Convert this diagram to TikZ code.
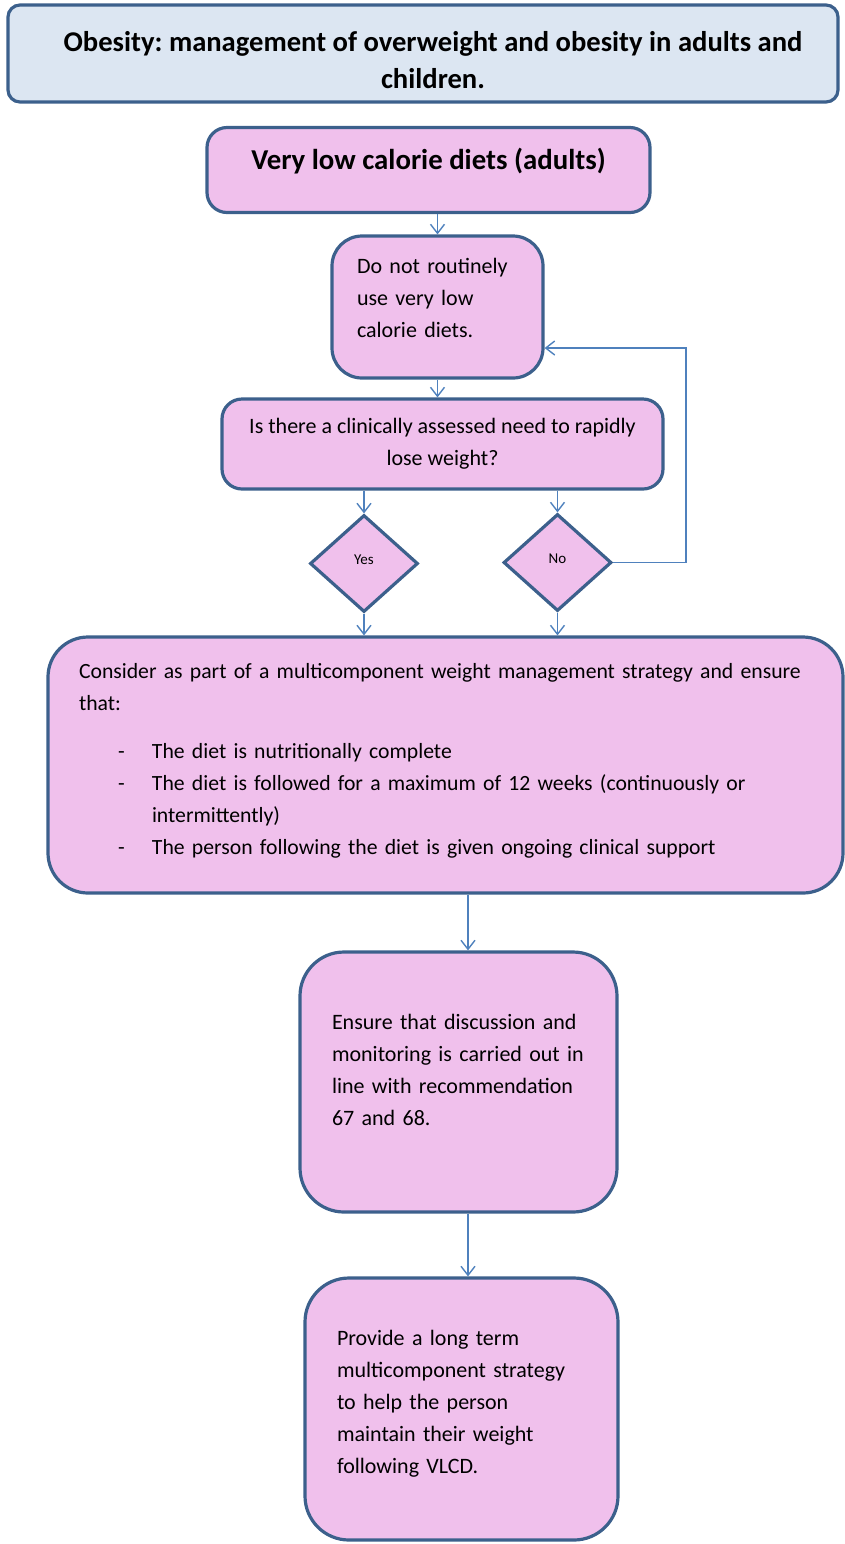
\documentclass[tikz,border=0pt]{standalone}
\usepackage{fontspec}
\setmainfont{Carlito}
\usepackage{tikz}
\usetikzlibrary{positioning}
\usetikzlibrary{shapes.geometric, arrows.meta}

\definecolor{boxpink}{RGB}{240,192,236}
\definecolor{boxline}{RGB}{60,96,140}
\definecolor{headfill}{RGB}{220,230,242}
\definecolor{flowblue}{RGB}{79,129,189}

\frenchspacing
\newcommand{\padbelow}[1]{\rule[-#1]{0pt}{#1}}
\newcommand{\padabove}[1]{\rule{0pt}{#1}}
\newcommand{\dashitem}{\makebox[36.5pt][l]{\hspace{19.5pt}-}}

\tikzset{
    box/.style={draw=boxline, line width=1.6pt, fill=boxpink, inner ysep=0pt,
        font=\fontsize{11}{16}\selectfont},
    choice/.style={box, diamond, inner sep=0pt, minimum width=54pt, minimum height=48.5pt,
        font=\fontsize{7.5}{8}\selectfont},
    flow/.style={draw=flowblue, line width=0.7pt, -{Straight Barb[length=4.5pt,width=7pt]}},
}

\begin{document}
\begin{tikzpicture}[x=0.5pt, y=-0.5pt]
    \useasboundingbox (0,0) rectangle (845,1544);

    % Nodes
    \node[box, fill=headfill, rounded corners=6pt, minimum width=415pt, minimum height=48.5pt,
        align=center, font=\bfseries\fontsize{14.3}{18.5}\selectfont] (title) at (423,53.5)
        {\hspace*{10pt}\padabove{17pt}Obesity: management of overweight and obesity in adults and\\
         \hspace*{10pt}children.};
    \node[box, rounded corners=10pt, minimum width=221.5pt, minimum height=42.5pt,
        font=\bfseries\fontsize{14.4}{20}\selectfont] (vlcd) at (428.5,170)
        {Very low calorie diets (adults)\padbelow{11pt}};
    \node[box, rounded corners=15pt, minimum width=105.5pt, minimum height=71pt,
        inner xsep=12.5pt, text width=80.5pt, align=left] (avoid) at (437.5,307)
        {Do not routinely\\use very low\\calorie diets.\padbelow{9pt}};
    \node[box, rounded corners=10pt, minimum width=220.5pt, minimum height=45pt,
        align=center] (question) at (442.5,444)
        {Is there a clinically assessed need to rapidly\\lose weight?};
    \node[choice] (yes) at (364,563.5) {Yes\padbelow{4pt}};
    \node[choice] (no) at (557.5,562.5) {No\padbelow{4pt}};
    \node[box, rounded corners=20pt, minimum width=397.5pt, minimum height=128pt,
        inner xsep=15.5pt, text width=366.5pt, align=left,
        font=\fontsize{10.85}{16}\selectfont] (consider) at (445.5,765)
        {Consider as part of a multicomponent weight management strategy and ensure\\
         that:\\[8pt]
         \dashitem The diet is nutritionally complete\\
         \dashitem The diet is followed for a maximum of 12 weeks (continuously or\\
         \hspace*{36.5pt}intermittently)\\
         \dashitem The person following the diet is given ongoing clinical support\padbelow{6pt}};
    \node[box, rounded corners=22pt, minimum width=158.5pt, minimum height=130pt,
        inner xsep=16pt, text width=126.5pt, align=left] (ensure) at (458.5,1082)
        {Ensure that discussion and\\monitoring is carried out in\\line with recommendation\\67 and 68.\padbelow{12pt}};
    \node[box, rounded corners=22pt, minimum width=156.5pt, minimum height=131pt,
        inner xsep=16pt, text width=124.5pt, align=left] (provide) at (461.5,1409)
        {Provide a long term\\multicomponent strategy\\to help the person\\maintain their weight\\following VLCD.\padbelow{7pt}};

    \coordinate (spine) at (468,0);
    \coordinate (loop) at (686,348);

    % Edges
    \draw[flow] (avoid.north |- vlcd.south) -- (avoid.north);
    \draw[flow] (avoid.south) -- (avoid.south |- question.north);
    \draw[flow] (yes.north |- question.south) -- (yes.north);
    \draw[flow] (no.north |- question.south) -- (no.north);
    \draw[flow] (no.east) -| (loop) -- (avoid.east |- loop);
    \draw[flow] (yes.south) -- (yes.south |- consider.north);
    \draw[flow] (no.south) -- (no.south |- consider.north);
    \draw[flow] (spine |- consider.south) -- (spine |- ensure.north);
    \draw[flow] (spine |- ensure.south) -- (spine |- provide.north);
\end{tikzpicture}
\end{document}
